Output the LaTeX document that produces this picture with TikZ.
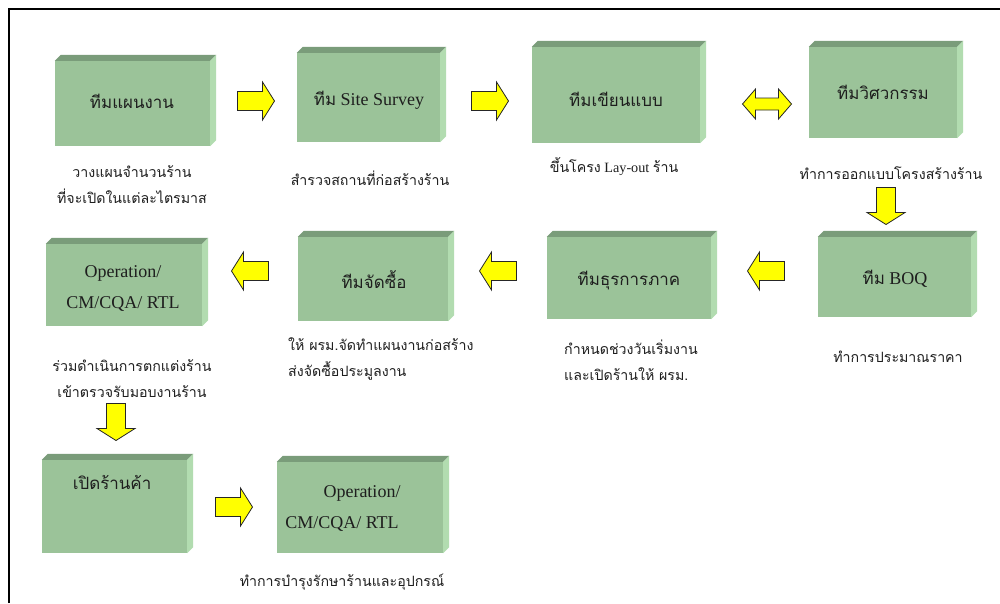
\documentclass[tikz,border=0pt]{standalone}
\usepackage{fontspec}
\setmainfont{Liberation Serif}
\newfontfamily\thai[Script=Thai]{Loma}
\newfontfamily\thaibx[Script=Thai,Scale=0.94]{Loma}
\usetikzlibrary{calc}
\definecolor{frontc}{RGB}{155,195,153}
\definecolor{topc}{RGB}{122,156,122}
\definecolor{sidec}{RGB}{178,220,176}
\definecolor{txtc}{RGB}{30,30,30}
\definecolor{arrfill}{RGB}{255,255,0}
\tikzset{
  box3d/.style={fill=frontc, inner sep=0pt, anchor=center},
  boxtext/.style={text=txtc, font=\fontsize{18}{31}\selectfont, align=center, inner sep=0pt},
  subtext/.style={text=txtc, font=\fontsize{14.2}{26}\selectfont, inner sep=0pt},
  arrowsty/.style={fill=arrfill, draw=black!85, line width=0.8pt, line join=miter},
  rarrow/.pic={\filldraw[arrowsty] (-18.5,-9.5) -- (6.5,-9.5) -- (6.5,-19) -- (18.5,0) -- (6.5,19) -- (6.5,9.5) -- (-18.5,9.5) -- cycle;},
  darrow/.pic={\filldraw[arrowsty] (-24.5,0) -- (-11.5,-15) -- (-11.5,-6) -- (11.5,-6) -- (11.5,-15) -- (24.5,0) -- (11.5,15) -- (11.5,6) -- (-11.5,6) -- (-11.5,15) -- cycle;}
}
\begin{document}
\begin{tikzpicture}[x=1pt,y=-1pt]
\useasboundingbox[fill=white] (0,0) rectangle (1000,603);
% frame
\draw[line width=2.5pt] (9,603) -- (9,9) -- (1000,9);
% boxes (front faces)
\node[box3d, minimum width=155pt, minimum height=85pt] (b1) at (132.5,103.5) {};
\node[box3d, minimum width=143pt, minimum height=89pt] (b2) at (368.5,97.5) {};
\node[box3d, minimum width=168pt, minimum height=96pt] (b3) at (616,95) {};
\node[box3d, minimum width=148pt, minimum height=91pt] (b4) at (883,92.5) {};
\node[box3d, minimum width=156pt, minimum height=82pt] (b5) at (124,285) {};
\node[box3d, minimum width=150pt, minimum height=84pt] (b6) at (373,279) {};
\node[box3d, minimum width=164pt, minimum height=82pt] (b7) at (629,278) {};
\node[box3d, minimum width=153pt, minimum height=80pt] (b8) at (894.5,277) {};
\node[box3d, minimum width=145pt, minimum height=93pt] (b9) at (114.5,506.5) {};
\node[box3d, minimum width=166pt, minimum height=91pt] (b10) at (360,507.5) {};
\foreach \n in {b1,b2,b3,b4,b5,b6,b7,b8,b9,b10}{
  \fill[topc] (\n.north west) -- ++(6,-6) -- ($(\n.north east)+(6,-6)$) -- (\n.north east) -- cycle;
  \fill[sidec] (\n.north east) -- ++(6,-6) -- ($(\n.south east)+(6,-6)$) -- (\n.south east) -- cycle;
}
% box texts
\node[boxtext] (t1) at (132,101) {\thaibx ทีมแผนงาน};
\node[boxtext] (t2) at (369,100) {{\thaibx ทีม} Site Survey};
\node[boxtext] (t3) at (616,99) {\thaibx ทีมเขียนแบบ};
\node[boxtext] (t4) at (883,92) {\thaibx ทีมวิศวกรรม};
\node[boxtext] (t5) at (123,288) {Operation/\\CM/CQA/ RTL};
\node[boxtext] (t6) at (374,280) {\thaibx ทีมจัดซื้อ};
\node[boxtext] (t7) at (629,281) {\thaibx ทีมธุรการภาค};
\node[boxtext] (t8) at (895,279) {{\thaibx ทีม} BOQ};
\node[boxtext] (t9) at (112,482) {\thaibx เปิดร้านค้า};
\node[boxtext] (t10) at (342,508) {\hspace*{40pt}Operation/\\CM/CQA/ RTL};
% sub texts
\node[subtext, align=center] (s1) at (132,184.5) {\thai วางแผนจำนวนร้าน\\\thai ที่จะเปิดในแต่ละไตรมาส};
\node[subtext] (s2) at (370,178) {\thai สำรวจสถานที่ก่อสร้างร้าน};
\node[subtext] (s3) at (614,167) {{\thai ขึ้นโครง} Lay-out {\thai ร้าน}};
\node[subtext] (s4) at (891,173) {\thai ทำการออกแบบโครงสร้างร้าน};
\node[subtext, align=center] (s5) at (132,378.5) {\thai ร่วมดำเนินการตกแต่งร้าน\\\thai เข้าตรวจรับมอบงานร้าน};
\node[subtext, align=left, anchor=west] (s6) at (288,359) {\thai ให้ ผรม.จัดทำแผนงานก่อสร้าง\\\thai ส่งจัดซื้อประมูลงาน};
\node[subtext, align=left, anchor=west] (s7) at (564,360.5) {\thai กำหนดช่วงวันเริ่มงาน\\\thai และเปิดร้านให้ ผรม.};
\node[subtext] (s8) at (898,357) {\thai ทำการประมาณราคา};
\node[subtext] (s10) at (342,582) {\thai ทำการบำรุงรักษาร้านและอุปกรณ์};
% block arrows
\pic at (256,101) {rarrow};
\pic at (490,101) {rarrow};
\pic at (767,104) {darrow};
\pic[rotate=-90] at (886,206) {rarrow};
\pic[rotate=180] at (766,271) {rarrow};
\pic[rotate=180] at (498,271) {rarrow};
\pic[rotate=180] at (250,271) {rarrow};
\pic[rotate=-90] at (116,422) {rarrow};
\pic at (234,507) {rarrow};
\end{tikzpicture}
\end{document}
